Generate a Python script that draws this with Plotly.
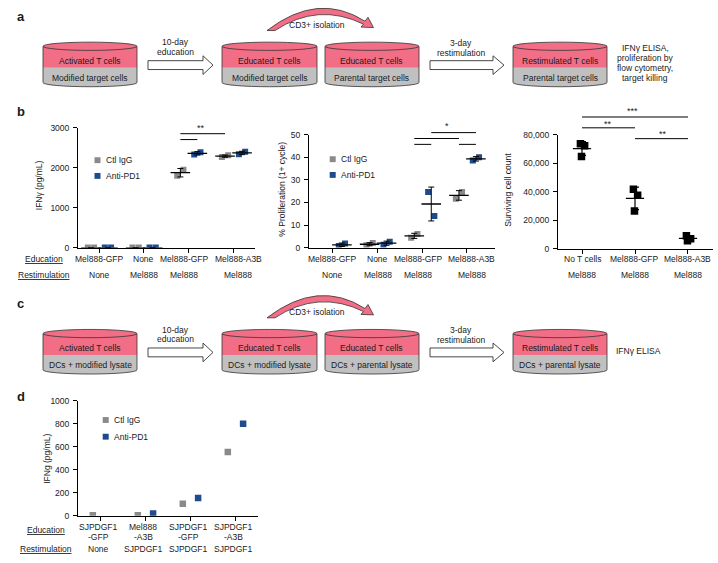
import numpy as np
import plotly.graph_objects as go

W, H = 718, 563
FONT = "Liberation Sans, Arial, sans-serif"
TXT = "#1a1a1a"
GRAY = "#8a8a8a"
BLUE = "#1d4b8b"
PINK = "#f26e86"
CYLGRAY = "#c0c0c0"
OUT = "#333333"

# ---------------- data ----------------
b_education = ["Mel888-GFP", "None", "Mel888-GFP", "Mel888-A3B"]
b_restim = ["None", "Mel888", "Mel888", "Mel888"]
ifng_ctl = [[0, 0], [0, 0], [1800, 1950], [2270, 2310]]
ifng_pd1 = [[0, 0], [0, 0], [2330, 2390], [2340, 2400]]
prolif_ctl = [None, [1.0, 2.0], [4.4, 6.0], [21.6, 24.6]]
prolif_pd1 = [[0.7, 1.8], [1.3, 2.6], [24.6, 14.0], [38.6, 40.0]]
kill_education = ["No T cells", "Mel888-GFP", "Mel888-A3B"]
kill_restim = ["Mel888", "Mel888", "Mel888"]
kill_counts = [[73700, 72300, 64700], [41700, 37500, 26400], [9000, 7000, 5500]]
d_edu_line1 = ["SJPDGF1", "Mel888", "SJPDGF1", "SJPDGF1"]
d_edu_line2 = ["-GFP", "-A3B", "-GFP", "-A3B"]
d_restim = ["None", "SJPDGF1", "SJPDGF1", "SJPDGF1"]
d_ctl = [5, 5, 105, 555]
d_pd1 = [None, 20, 155, 800]

b1_ticks = [0, 1000, 2000, 3000]
b2_ticks = [0, 10, 20, 30, 40, 50]
b3_ticks = [0, 20000, 40000, 60000, 80000]
d_ticks = [0, 200, 400, 600, 800, 1000]

# ---------------- geometry ----------------
charts = {
    1: dict(xd=(78, 255), yd=(247, 125), xr=(-0.47, 3.49), yr=(0, 3000)),
    2: dict(xd=(309, 495), yd=(247, 132), xr=(-0.537, 3.627), yr=(0, 50)),
    3: dict(xd=(558, 713), yd=(248, 132), xr=(-0.453, 2.472), yr=(0, 80000)),
    4: dict(xd=(78, 258), yd=(520, 403), xr=(-0.489, 3.511), yr=(0, 1000)),
}


def px(x):
    return x / W


def py(y):
    return 1 - y / H


def to_px(ch, xv, yv):
    g = charts[ch]
    L, R = g["xd"]
    B, T = g["yd"]
    x0, x1 = g["xr"]
    y0, y1 = g["yr"]
    return L + (xv - x0) / (x1 - x0) * (R - L), B - (yv - y0) / (y1 - y0) * (B - T)


fig = go.Figure()
shapes = []
annotations = []


def text(x, y, s, size=8.5, bold=False, xanchor="center", **kw):
    if bold:
        s = "<b>" + s + "</b>"
    annotations.append(dict(x=px(x), y=py(y), xref="paper", yref="paper", text=s,
                            showarrow=False, xanchor=xanchor, yanchor="middle",
                            font=dict(family=FONT, size=size, color=TXT), **kw))


def path_from(cmds):
    out = []
    for cmd, pts in cmds:
        if cmd == "L":
            for a, b in pts:
                out.append(f"L{px(a):.5f},{py(b):.5f}")
        else:
            out.append(cmd + " ".join(f"{px(a):.5f},{py(b):.5f}" for a, b in pts))
    return " ".join(out) + " Z"


# ---------------- axes ----------------
for i, g in charts.items():
    xn = "xaxis" if i == 1 else f"xaxis{i}"
    yn = "yaxis" if i == 1 else f"yaxis{i}"
    L, R = g["xd"]
    B, T = g["yd"]
    common = dict(showgrid=False, zeroline=False, showline=True, linecolor="black",
                  linewidth=1, ticks="outside", ticklen=4, tickcolor="black", tickwidth=1,
                  tickfont=dict(family=FONT, size=8.5, color=TXT))
    fig.update_layout(**{
        xn: dict(domain=[px(L), px(R)], range=list(g["xr"]), anchor="y" if i == 1 else f"y{i}",
                 tickvals=list(range(4 if i != 3 else 3)), showticklabels=False, **common),
        yn: dict(domain=[py(B), py(T)], range=list(g["yr"]), anchor="x" if i == 1 else f"x{i}",
                 ticklabelstandoff=2, **common),
    })
fig.update_layout(yaxis=dict(tickvals=b1_ticks), yaxis2=dict(tickvals=b2_ticks),
                  yaxis3=dict(tickvals=b3_ticks, tickformat=",d"), yaxis4=dict(tickvals=d_ticks))


def axrefs(i):
    return ("x" if i == 1 else f"x{i}"), ("y" if i == 1 else f"y{i}")


# ---------------- grouped charts b1, b2 ----------------
OFFS = (-0.18, 0.2)
JIT = (-0.07, 0.07)


def grouped(i, ctl, pd1, size=6):
    xa, ya = axrefs(i)
    means = []
    for cond, vals, color in ((0, ctl, GRAY), (1, pd1, BLUE)):
        xs, ys, mx, my, sd = [], [], [], [], []
        for gi, reps in enumerate(vals):
            if reps is None:
                continue
            for j, v in enumerate(reps):
                xs.append(gi + OFFS[cond] + JIT[j])
                ys.append(v)
            mx.append(gi + OFFS[cond])
            my.append(float(np.mean(reps)))
            sd.append(float(np.std(reps, ddof=1)))
        fig.add_trace(go.Scatter(x=xs, y=ys, mode="markers", xaxis=xa, yaxis=ya, showlegend=False,
                                 marker=dict(symbol="square", size=size, color=color, line=dict(width=0))))
        means.append((mx, my, sd))
    for mx, my, sd in means:
        fig.add_trace(go.Scatter(x=mx, y=my, mode="markers", xaxis=xa, yaxis=ya, showlegend=False,
                                 marker=dict(symbol="line-ew", size=14, line=dict(color="black", width=1.3)),
                                 error_y=dict(type="data", array=sd, color="black", thickness=1, width=3)))


grouped(1, ifng_ctl, ifng_pd1)
grouped(2, prolif_ctl, prolif_pd1)

# ---------------- chart b3 ----------------
KJIT = (-0.03, 0.05, -0.01)
xs, ys = [], []
for gi, reps in enumerate(kill_counts):
    for j, v in enumerate(reps):
        xs.append(gi + KJIT[j])
        ys.append(v)
fig.add_trace(go.Scatter(x=xs, y=ys, mode="markers", xaxis="x3", yaxis="y3", showlegend=False,
                         marker=dict(symbol="square", size=7.5, color="black")))
fig.add_trace(go.Scatter(x=list(range(len(kill_counts))), y=[float(np.mean(r)) for r in kill_counts],
                         mode="markers", xaxis="x3", yaxis="y3", showlegend=False,
                         marker=dict(symbol="line-ew", size=13, line=dict(color="black", width=1.3)),
                         error_y=dict(type="data", array=[float(np.std(r, ddof=1)) for r in kill_counts],
                                      color="black", thickness=1.2, width=4)))

# ---------------- chart d ----------------
DOFFS = (-0.16, 0.18)
for cond, vals, color in ((0, d_ctl, GRAY), (1, d_pd1, BLUE)):
    xx = [gi + DOFFS[cond] for gi, v in enumerate(vals) if v is not None]
    yy = [v for v in vals if v is not None]
    fig.add_trace(go.Scatter(x=xx, y=yy, mode="markers", xaxis="x4", yaxis="y4", showlegend=False,
                             marker=dict(symbol="square", size=6.5, color=color)))

# ---------------- significance bars ----------------
sig = {
    1: dict(lines=[(2 + OFFS[0], 3 + OFFS[0], 2852), (2 + OFFS[0], 2 + OFFS[1], 2705)],
            labels=[("**", 2.28, 3049)]),
    2: dict(lines=[(2 + OFFS[1], 3 + OFFS[1], 50.9), (2 + OFFS[0], 3 + OFFS[0], 48.3),
                   (2 + OFFS[0], 2 + OFFS[1], 45.7), (3 + OFFS[0], 3 + OFFS[1], 45.7)],
            labels=[("*", 2.55, 54.8)]),
    3: dict(lines=[(0, 2, 92400), (0, 1, 84800), (1, 2, 77200)],
            labels=[("***", 0.96, 98000), ("**", 0.49, 89500), ("**", 1.53, 82000)]),
}
for ch, s in sig.items():
    for x0, x1, yv in s["lines"]:
        a = to_px(ch, x0, yv)
        b = to_px(ch, x1, yv)
        shapes.append(dict(type="line", xref="paper", yref="paper", x0=px(a[0]), x1=px(b[0]),
                           y0=py(a[1]), y1=py(b[1]), line=dict(color="black", width=1)))
    for t, xv, yv in s["labels"]:
        p = to_px(ch, xv, yv)
        text(p[0], p[1] + 2.5, t, size=9)

# ---------------- legends ----------------
for sx, sy1, sy2 in ((97.5, 158, 174), (332.7, 157, 173), (105.7, 422.5, 439.5)):
    for yy, col, lab in ((sy1, GRAY, "Ctl IgG"), (sy2, BLUE, "Anti-PD1")):
        shapes.append(dict(type="rect", xref="paper", yref="paper", x0=px(sx - 3), x1=px(sx + 3),
                           y0=py(yy + 3), y1=py(yy - 3), fillcolor=col, line=dict(width=0)))
        text(sx + 6.5, yy, lab, xanchor="left")

# ---------------- axis titles ----------------
text(38.5, 184, "IFNγ (pg/mL)", textangle=-90)
text(282, 188, "% Proliferation (1+ cycle)", textangle=-90)
text(508, 188, "Surviving cell count", textangle=-90)
text(47, 462, "IFNg (pg/mL)", textangle=-90)

# ---------------- category labels ----------------
text(44, 259, "<u>Education</u>")
text(44, 275, "<u>Restimulation</u>")
SH = [0, 0, -4, 5]
for ch in (1, 2):
    for gi in range(4):
        xp = to_px(ch, gi, 0)[0] + SH[gi]
        text(xp, 259, b_education[gi])
        text(xp, 275, b_restim[gi])
for gi in range(3):
    xp = to_px(3, gi, 0)[0]
    text(xp, 259, kill_education[gi])
    text(xp, 275, kill_restim[gi])

text(46, 534, "<u>Education</u>")
text(46, 554, "<u>Restimulation</u>")
for gi in range(4):
    xp = to_px(4, gi, 0)[0] - 2
    text(xp, 531, d_edu_line1[gi])
    text(xp, 542, d_edu_line2[gi])
    text(xp, 554, d_restim[gi])

# ---------------- schematic panels a / c ----------------
CYL_X = [(43, 137), (222, 317), (325, 419), (513, 607)]


def cylinder(xl, xr, yt, ym, yb, ry=4.2):
    shapes.append(dict(type="circle", xref="paper", yref="paper", x0=px(xl), x1=px(xr),
                       y0=py(yb + ry), y1=py(yb - ry), fillcolor=CYLGRAY, line=dict(color=OUT, width=0.8)))
    shapes.append(dict(type="rect", xref="paper", yref="paper", x0=px(xl), x1=px(xr),
                       y0=py(yb), y1=py(ym), fillcolor=CYLGRAY, line=dict(width=0)))
    shapes.append(dict(type="rect", xref="paper", yref="paper", x0=px(xl), x1=px(xr),
                       y0=py(ym), y1=py(yt), fillcolor=PINK, line=dict(width=0)))
    for xx in (xl, xr):
        shapes.append(dict(type="line", xref="paper", yref="paper", x0=px(xx), x1=px(xx),
                           y0=py(yt), y1=py(yb), line=dict(color=OUT, width=0.8)))
    shapes.append(dict(type="circle", xref="paper", yref="paper", x0=px(xl), x1=px(xr),
                       y0=py(yt + ry), y1=py(yt - ry), fillcolor=PINK, line=dict(color=OUT, width=0.8)))


def block_arrow(x0, xh, xt, yc):
    pts = [(x0, yc - 4.5), (xh, yc - 4.5), (xh, yc - 9.5), (xt, yc), (xh, yc + 9.5), (xh, yc + 4.5), (x0, yc + 4.5)]
    p = path_from([("M", pts[:1]), ("L", pts[1:])])
    shapes.append(dict(type="path", xref="paper", yref="paper", path=p, fillcolor="white",
                       line=dict(color=OUT, width=0.9)))


def curved_arrow(off):
    cmds = [("M", [(267, 26 + off)]),
            ("Q", [(318, -14 + off), (365, 16.5 + off)]),
            ("L", [(368, 12.5 + off), (373.5, 23 + off), (361, 22.5 + off), (363.5, 19.5 + off)]),
            ("Q", [(318, -3 + off), (275, 26 + off)])]
    shapes.append(dict(type="path", xref="paper", yref="paper", path=path_from(cmds),
                       fillcolor=PINK, line=dict(color=OUT, width=0.8)))


def schematic(off, letter, tops, bottoms, right_lines, right_x, right_ys):
    text(20.5, 11.5 + off, letter, size=13, bold=True)
    for (xl, xr), t, b in zip(CYL_X, tops, bottoms):
        cylinder(xl, xr, 42 + off, 64 + off, 79 + off)
        text((xl + xr) / 2, 57 + off, t)
        text((xl + xr) / 2, 74.5 + off, b)
    block_arrow(148, 203, 213, 61.2 + off)
    block_arrow(430, 493, 504, 61.2 + off)
    text(175, 38 + off, "10-day")
    text(175, 48 + off, "education")
    text(461.5, 38.5 + off, "3-day")
    text(461.5, 48.5 + off, "restimulation")
    curved_arrow(off)
    text(317, 20 + off, "CD3+ isolation")
    for ln, yy in zip(right_lines, right_ys):
        text(right_x, yy + off, ln)


schematic(0, "a",
          ["Activated T cells", "Educated T cells", "Educated T cells", "Restimulated T cells"],
          ["Modified target cells", "Modified target cells", "Parental target cells", "Parental target cells"],
          ["IFNγ ELISA,", "proliferation by", "flow cytometry,", "target killing"], 645,
          [43.3, 53.5, 63.8, 74.3])
schematic(292.5, "c",
          ["Activated T cells", "Educated T cells", "Educated T cells", "Restimulated T cells"],
          ["DCs + modified lysate", "DCs + modified lysate", "DCs + parental lysate", "DCs + parental lysate"],
          ["IFNγ ELISA"], 638, [59.5])

text(20.5, 108, "b", size=13, bold=True)
text(20.5, 399, "d", size=13, bold=True)

fig.update_layout(width=W, height=H, margin=dict(l=0, r=0, t=0, b=0),
                  paper_bgcolor="white", plot_bgcolor="white",
                  shapes=shapes, annotations=annotations, showlegend=False,
                  font=dict(family=FONT, size=8.5, color=TXT))

fig.write_html("out.html", config={"displayModeBar": False},
               post_script="document.body.style.margin='0';document.body.style.padding='0';")
